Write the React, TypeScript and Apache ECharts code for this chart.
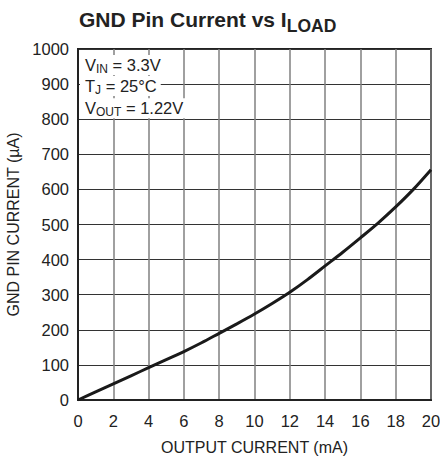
import React, { useEffect, useRef } from "react";
import * as echarts from "echarts";

// Output current (mA)
const outputCurrent = [0, 1, 2, 3, 4, 5, 6, 7, 8, 9, 10, 11, 12, 13, 14, 15, 16, 17, 18, 19, 20];
// GND pin current (µA)
const gndPinCurrent = [0, 23, 46, 69, 92, 115, 138, 163, 190, 217, 245, 275, 307, 343, 382, 421, 462, 504, 550, 600, 656];

const titleMain = "GND Pin Current vs I";
const titleSub = "LOAD";
const xAxisName = "OUTPUT CURRENT (mA)";
const yAxisName = "GND PIN CURRENT (µA)";
const noteLines = [
  ["V", "IN", " = 3.3V"],
  ["T", "J", " = 25°C"],
  ["V", "OUT", " = 1.22V"],
];

const FONT = "'Liberation Sans', Arial, Helvetica, sans-serif";
const INK = "#222";
const NOTE_MAIN = 16.5;
const NOTE_SUB = 12;

function measure(text: string, size: number): number {
  const ctx = document.createElement("canvas").getContext("2d");
  if (!ctx) return text.length * size * 0.55;
  ctx.font = `${size}px ${FONT}`;
  return ctx.measureText(text).width;
}

export default function App() {
  const ref = useRef<HTMLDivElement>(null);

  useEffect(() => {
    document.body.style.margin = "0";
    const chart = echarts.init(ref.current!, null, { renderer: "svg" });

    const noteTops = [55, 76, 98.3];
    const noteElems: any[] = [];
    noteLines.forEach((parts, i) => {
      const w =
        measure(parts[0], NOTE_MAIN) + measure(parts[1], NOTE_SUB) + measure(parts[2], NOTE_MAIN) + 9;
      noteElems.push({
        type: "rect",
        z: 99,
        silent: true,
        shape: { x: 80, y: noteTops[i], width: w, height: 20 },
        style: { fill: "#fff" },
      });
      noteElems.push({
        type: "text",
        x: 80,
        y: noteTops[i],
        z: 100,
        silent: true,
        style: {
          text: `{a|${parts[0]}}{s|${parts[1]}}{a|${parts[2]}}`,
          padding: [0, 4, 0, 5],
          fill: INK,
          rich: {
            a: { fontSize: NOTE_MAIN, fontFamily: FONT, fill: INK },
            s: { fontSize: NOTE_SUB, fontFamily: FONT, fill: INK, padding: [8, 0, 0, 0] },
          },
        },
      });
    });

    chart.setOption({
      animation: false,
      backgroundColor: "#fff",
      title: {
        text: `{a|${titleMain}}{s|${titleSub}}`,
        left: 79,
        top: 4.5,
        padding: 0,
        textStyle: {
          fontWeight: "bold",
          rich: {
            a: { fontSize: 21, fontWeight: "bold", fontFamily: FONT, color: INK },
            s: { fontSize: 17.5, fontWeight: "bold", fontFamily: FONT, color: INK, padding: [12.4, 0, 0, 0] },
          },
        },
      },
      graphic: noteElems,
      grid: {
        left: 78,
        top: 49,
        width: 353,
        height: 351,
        show: true,
        borderColor: INK,
        borderWidth: 2,
        backgroundColor: "transparent",
        containLabel: false,
        outerBoundsMode: "none",
      },
      xAxis: {
        type: "value",
        min: 0,
        max: 20,
        interval: 2,
        name: xAxisName,
        nameLocation: "middle",
        nameGap: 39,
        nameTextStyle: { fontSize: 16, fontFamily: FONT, color: INK },
        axisLine: { show: true, lineStyle: { color: INK, width: 2 } },
        axisTick: { show: false },
        axisLabel: { fontSize: 16.5, fontFamily: FONT, color: INK, margin: 12, formatter: (v: number) => String(v) },
        splitLine: { show: true, lineStyle: { color: "#808080", width: 1.5 } },
      },
      yAxis: {
        type: "value",
        min: 0,
        max: 1000,
        interval: 100,
        name: yAxisName,
        nameLocation: "middle",
        nameGap: 48.5,
        nameTextStyle: { fontSize: 16, fontFamily: FONT, color: INK },
        axisLine: { show: true, lineStyle: { color: INK, width: 2 } },
        axisTick: { show: false },
        axisLabel: { fontSize: 16.5, fontFamily: FONT, color: INK, margin: 9, formatter: (v: number) => String(v) },
        splitLine: { show: true, lineStyle: { color: "#333", width: 1 } },
      },
      series: [
        {
          type: "line",
          data: outputCurrent.map((x, i) => [x, gndPinCurrent[i]]),
          smooth: 0.3,
          showSymbol: false,
          lineStyle: { color: "#1a1a1a", width: 3 },
          z: 3,
        },
      ],
    });

    return () => chart.dispose();
  }, []);

  return <div ref={ref} style={{ width: 440, height: 462 }} />;
}
